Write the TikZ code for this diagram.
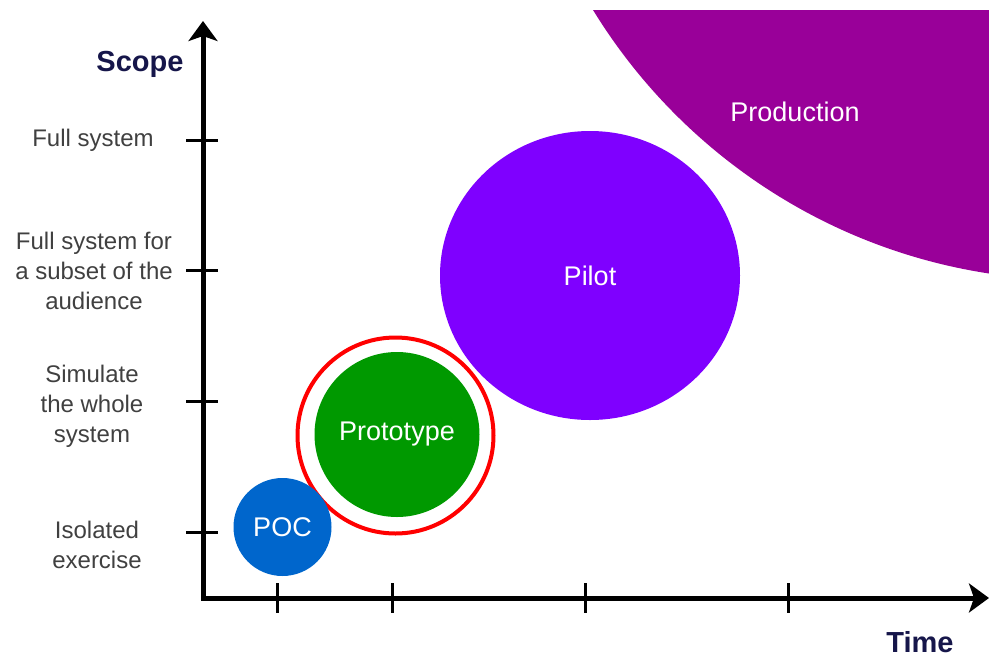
\documentclass[tikz,border=0pt]{standalone}
\usepackage{fontspec}
\setmainfont{Liberation Sans}
\usetikzlibrary{arrows.meta,shapes.geometric}
\definecolor{prodc}{HTML}{990099}
\definecolor{pilotc}{HTML}{7F00FF}
\definecolor{protoc}{HTML}{009900}
\definecolor{pocc}{HTML}{0066CC}
\definecolor{navy}{HTML}{16164A}
\definecolor{lblgray}{HTML}{404040}
\tikzset{
  bubble/.style={circle, inner sep=0pt, draw=none, text=white, font=\fontsize{27}{32}\selectfont},
  ticklbl/.style={align=center, text=lblgray, font=\fontsize{24}{30}\selectfont, inner sep=0pt},
  axislbl/.style={text=navy, font=\fontsize{29}{34}\selectfont\bfseries, inner sep=0pt},
  axisline/.style={line width=5pt, line join=miter, black},
  tickline/.style={line width=3pt, black},
  axarrow/.tip={Stealth[length=20pt,width=29pt,inset=5pt]}
}
\begin{document}
\begin{tikzpicture}[x=1pt,y=-1pt]
\useasboundingbox (0,0) rectangle (989,657);
% Production (clipped)
\begin{scope}
  \clip (0,10) rectangle (989,657);
  \node[bubble, fill=prodc, minimum size=1130pt] (prod) at (1075,-285) {};
\end{scope}
\node[text=white, font=\fontsize{27}{32}\selectfont, inner sep=0pt] (prodlbl) at (795,112) {Production};
% Pilot
\node[bubble, ellipse, fill=pilotc, minimum width=300pt, minimum height=289pt] (pilot) at (590,275.5) {Pilot};
% Prototype
\node[bubble, fill=protoc, minimum size=165pt] (proto) at (397,434.5) {Prototype};
\node[circle, draw=red, line width=4pt, minimum size=196pt, inner sep=0pt] (ring) at (395.5,435.5) {};
% POC
\node[bubble, fill=pocc, minimum size=98pt] (poc) at (282.5,527) {POC};
% axes
\coordinate (ytop) at (203,21);
\coordinate (orig) at (203,598);
\coordinate (xend) at (989,598);
\draw[axisline, axarrow-axarrow] (ytop) -- (orig) -- (xend);
% y ticks
\foreach \n/\yy in {t1/140, t2/270, t3/401, t4/532}{
  \coordinate (\n a) at (186,\yy);
  \coordinate (\n b) at (218,\yy);
  \draw[tickline] (\n a) -- (\n b);
}
% x ticks
\foreach \n/\xx in {u1/277, u2/392, u3/585, u4/788}{
  \coordinate (\n a) at (\xx,583);
  \coordinate (\n b) at (\xx,613);
  \draw[tickline] (\n a) -- (\n b);
}
% labels
\node[ticklbl] (l1) at (93,140) {Full system};
\node[ticklbl] (l2) at (94,271) {Full system for\\a subset of the\\audience};
\node[ticklbl] (l3) at (92,406) {Simulate\\the whole\\system};
\node[ticklbl] (l4) at (97,545) {Isolated\\exercise};
\node[axislbl] (scope) at (140,64) {Scope};
\node[axislbl] (time) at (920,642) {Time};
\end{tikzpicture}
\end{document}
